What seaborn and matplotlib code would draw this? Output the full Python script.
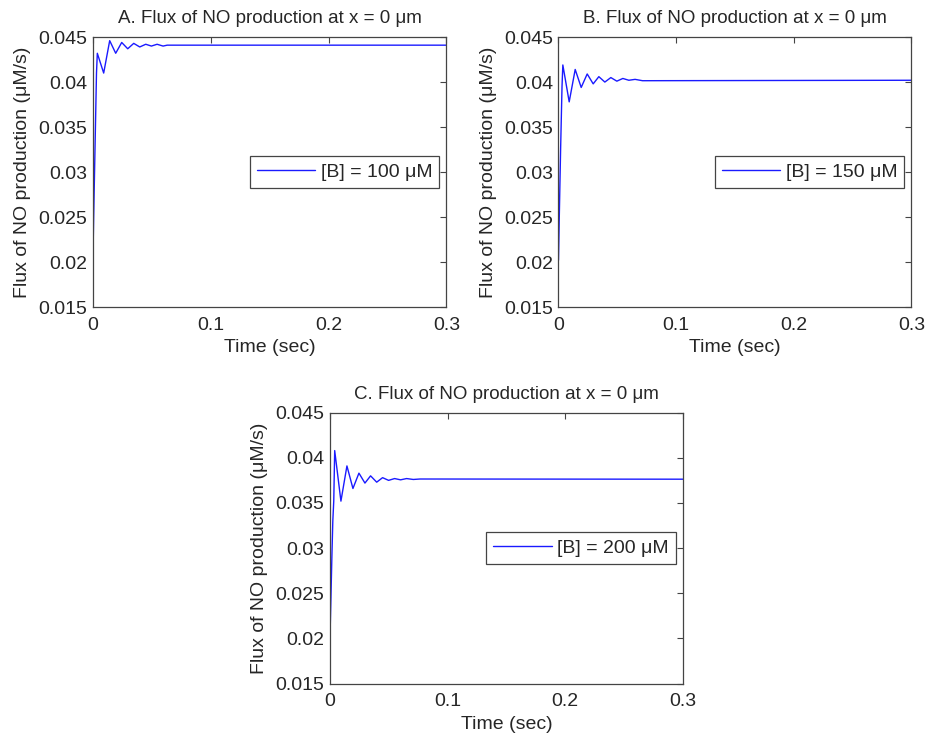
import numpy as np
import pandas as pd
import matplotlib
matplotlib.use("Agg")
import matplotlib.pyplot as plt
import seaborn as sns

# Time (sec) and flux (uM/s) for each buffer concentration
time_a = [0, 0.0006, 0.0012, 0.0018, 0.0024, 0.003, 0.0037, 0.0091, 0.0142, 0.0193,
          0.0244, 0.0295, 0.0346, 0.0397, 0.0448, 0.0496, 0.0544, 0.0595, 0.063, 0.3]
flux_a = [0.0205, 0.0250, 0.0290, 0.0330, 0.0370, 0.0410, 0.0432, 0.0410, 0.0446, 0.0432,
          0.0444, 0.0437, 0.0443, 0.0439, 0.0442, 0.0440, 0.0442, 0.0440, 0.0441, 0.0441]

time_b = [0, 0.0006, 0.0012, 0.0018, 0.0024, 0.003, 0.0037, 0.0091, 0.0142, 0.0193,
          0.0244, 0.0295, 0.0343, 0.0394, 0.0445, 0.0496, 0.0547, 0.0598, 0.0651, 0.0714,
          0.3]
flux_b = [0.0202, 0.0245, 0.0285, 0.0325, 0.0360, 0.0395, 0.0419, 0.0378, 0.0414, 0.0394,
          0.0409, 0.0398, 0.0406, 0.0400, 0.0405, 0.0401, 0.0404, 0.0402, 0.0403, 0.04015,
          0.0402]

time_c = [0, 0.0008, 0.0016, 0.0024, 0.0032, 0.004, 0.0093, 0.0144, 0.0195, 0.0246,
          0.0297, 0.0345, 0.0397, 0.0447, 0.0498, 0.0549, 0.0600, 0.0651, 0.0708, 0.0765,
          0.3]
flux_c = [0.0201, 0.0245, 0.0290, 0.0330, 0.0352, 0.0408, 0.0352, 0.0391, 0.0366, 0.0383,
          0.0372, 0.0380, 0.0373, 0.0378, 0.0375, 0.0377, 0.03756, 0.0377, 0.0376, 0.03765,
          0.03763]

panel_titles = ["A. Flux of NO production at x = 0 \u03bcm",
                "B. Flux of NO production at x = 0 \u03bcm",
                "C. Flux of NO production at x = 0 \u03bcm"]
legend_labels = ["[B] = 100 \u03bcM", "[B] = 150 \u03bcM", "[B] = 200 \u03bcM"]
x_ticks = [0, 0.1, 0.2, 0.3]
x_tick_labels = ["0", "0.1", "0.2", "0.3"]
y_ticks = [0.015, 0.02, 0.025, 0.03, 0.035, 0.04, 0.045]
y_tick_labels = ["0.015", "0.02", "0.025", "0.03", "0.035", "0.04", "0.045"]

sns.set_theme(style="white")
plt.rcParams["font.family"] = ["Liberation Sans", "DejaVu Sans"]
plt.rcParams["font.size"] = 14

fig = plt.figure(figsize=(9.38, 7.34), dpi=100)
positions = [
    [0.0991, 0.5817, 0.3769, 0.3678],
    [0.5954, 0.5817, 0.3763, 0.3678],
    [0.3518, 0.0688, 0.3763, 0.3690],
]
series = [(time_a, flux_a), (time_b, flux_b), (time_c, flux_c)]

for pos, (t, f), title, lab in zip(positions, series, panel_titles, legend_labels):
    ax = fig.add_axes(pos)
    df = pd.DataFrame({"Time (sec)": t, "flux": f, "series": lab})
    sns.lineplot(data=df, x="Time (sec)", y="flux", hue="series",
                 palette=["#1a1aff"], linewidth=1.0, ax=ax, estimator=None,
                 sort=False)
    ax.set_xlim(0, 0.3)
    ax.set_ylim(0.015, 0.045)
    ax.set_xticks(x_ticks)
    ax.set_xticklabels(x_tick_labels)
    ax.set_yticks(y_ticks)
    ax.set_yticklabels(y_tick_labels)
    ax.set_xlabel("Time (sec)", fontsize=14, labelpad=4)
    ax.set_ylabel("Flux of NO production (\u03bcM/s)", fontsize=14, labelpad=5)
    ax.set_title(title, fontsize=13.5, pad=10)
    ax.tick_params(direction="in", length=4, width=0.8, color="#444444",
                   top=True, right=True, labelsize=14)
    ax.tick_params(axis="x", pad=7)
    ax.tick_params(axis="y", pad=4)
    for sp in ax.spines.values():
        sp.set_color("#444444")
        sp.set_linewidth(0.9)
        sp.set_visible(True)
    leg = ax.legend(loc="center right", bbox_to_anchor=(0.98, 0.5), fontsize=14,
                    frameon=True, fancybox=False, framealpha=1, handlelength=3.0,
                    borderpad=0.35, handletextpad=0.3, borderaxespad=0)
    leg.get_frame().set_edgecolor("#444444")
    leg.get_frame().set_linewidth(0.9)

fig.savefig("out.png", dpi=100)
